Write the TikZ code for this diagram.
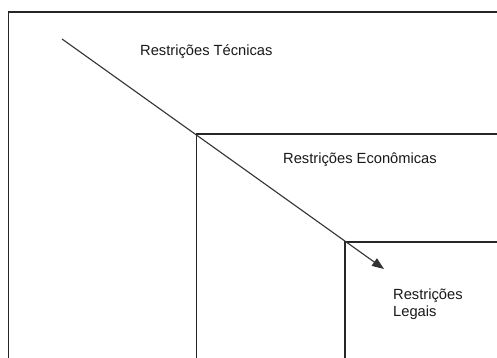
\documentclass[tikz,border=0pt]{standalone}
\usepackage{fontspec}
\setmainfont{Liberation Sans}
\usetikzlibrary{arrows.meta}
\begin{document}
\begin{tikzpicture}[x=1pt,y=-1pt,
  boxline/.style={draw=black!85,line width=1.1pt},
  lbl/.style={font=\fontsize{14.7}{17}\selectfont,inner sep=0pt,anchor=base west,align=left,text=black!90},
  arrowline/.style={draw=black!80,line width=1.1pt,-{Triangle[length=12pt,width=9pt]}}]
\useasboundingbox (0,0) rectangle (497,358);
\fill[white] (0,0) rectangle (497,358);
\begin{scope}
\clip (0,0) rectangle (497,358);
\draw[boxline] (8.5,380) -- (8.5,12) -- (520,12);
\draw[boxline] (196.5,380) -- (196.5,134) -- (520,134);
\draw[boxline] (345,380) -- (345,242) -- (520,242);
\end{scope}
\coordinate (start) at (62,39);
\coordinate (tip) at (384,269);
\draw[arrowline] (start) -- (tip);
\node[lbl] (tec) at (140,56) {Restrições Técnicas};
\node[lbl] (eco) at (283,163) {Restrições Econômicas};
\node[lbl] (leg) at (393,316) {Restrições\\[-0.4pt]Legais};
\end{tikzpicture}
\end{document}
